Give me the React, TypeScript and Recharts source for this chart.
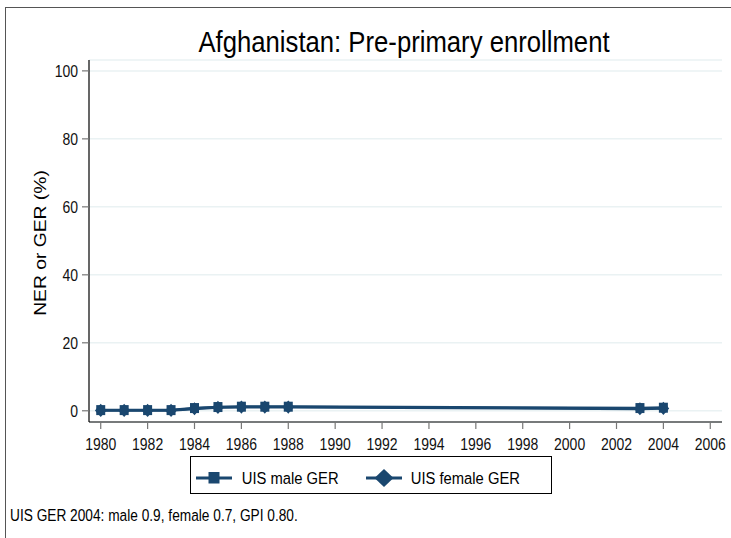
import React from "react";
import { ComposedChart, Line, XAxis, YAxis, CartesianGrid } from "recharts";

const years = [1980, 1981, 1982, 1983, 1984, 1985, 1986, 1987, 1988, 2003, 2004];
const maleGER = [0.2, 0.2, 0.2, 0.2, 0.8, 1.1, 1.2, 1.2, 1.2, 0.8, 0.9];
const femaleGER = [0.1, 0.1, 0.1, 0.1, 0.6, 1.0, 1.1, 1.1, 1.1, 0.6, 0.7];
const xTicks = [1980, 1982, 1984, 1986, 1988, 1990, 1992, 1994, 1996, 1998, 2000, 2002, 2004, 2006];
const yTicks = [0, 20, 40, 60, 80, 100];

const title = "Afghanistan: Pre-primary enrollment";
const yLabel = "NER or GER (%)";
const seriesNames = ["UIS male GER", "UIS female GER"];
const note = "UIS GER 2004: male 0.9, female 0.7, GPI 0.80.";

const data = years.map((y, i) => ({ year: y, male: maleGER[i], female: femaleGER[i] }));

const NAVY = "#1a476f";
const FONT = "'Liberation Sans', Arial, Helvetica, sans-serif";
const SY = 1.17; // vertical stretch of the reference's text

const SquareDot = (props: any) => {
  const { cx, cy } = props;
  if (cx == null || cy == null) return null;
  const w = 9, h = 10;
  return <rect x={cx - w / 2} y={cy - h / 2} width={w} height={h} fill={NAVY} />;
};

const DiamondDot = (props: any) => {
  const { cx, cy } = props;
  if (cx == null || cy == null) return null;
  const rx = 5.8, ry = 6.6;
  return (
    <polygon
      points={`${cx},${cy - ry} ${cx + rx},${cy} ${cx},${cy + ry} ${cx - rx},${cy}`}
      fill={NAVY}
    />
  );
};

const XTick = (props: any) => {
  const { x, y, payload } = props;
  return (
    <g transform={`translate(${x},${y + 18}) scale(1,${SY})`}>
      <text x={0} y={0} textAnchor="middle" fontSize={14} fontFamily={FONT} fill="#111">
        {payload.value}
      </text>
    </g>
  );
};

const YTick = (props: any) => {
  const { x, y, payload } = props;
  return (
    <g transform={`translate(${x - 1},${y + 5.8}) scale(1,${SY})`}>
      <text x={0} y={0} textAnchor="end" fontSize={14} fontFamily={FONT} fill="#111">
        {payload.value}
      </text>
    </g>
  );
};

export default function App() {
  return (
    <div style={{ position: "absolute", left: 0, top: 0, width: 731, height: 538, background: "#fff", fontFamily: FONT, overflow: "hidden" }}>
      <div style={{ position: "absolute", left: 0, top: 0 }}>
        <ComposedChart
          width={731}
          height={538}
          data={data}
          margin={{ top: 60, right: 9, left: 0, bottom: 86 }}
        >
          <CartesianGrid horizontal={true} vertical={false} stroke="#eaf2f3" strokeWidth={1.5} />
          <XAxis
            dataKey="year"
            type="number"
            domain={[1979.5, 2006.5]}
            ticks={xTicks}
            allowDataOverflow
            height={30}
            tickSize={7}
            tickMargin={3}
            axisLine={{ stroke: "#000", strokeWidth: 1.2 }}
            tickLine={{ stroke: "#777", strokeWidth: 1.2 }}
            tick={<XTick />}
            interval={0}
          />
          <YAxis
            type="number"
            domain={[-3.3, 103.2]}
            ticks={yTicks}
            allowDataOverflow
            width={89}
            tickSize={7}
            tickMargin={3}
            axisLine={{ stroke: "#000", strokeWidth: 1.2 }}
            tickLine={{ stroke: "#777", strokeWidth: 1.2 }}
            tick={<YTick />}
            interval={0}
          />
          <Line
            dataKey="male"
            stroke={NAVY}
            strokeWidth={2.8}
            dot={<SquareDot />}
            activeDot={false}
            isAnimationActive={false}
          />
          <Line
            dataKey="female"
            stroke={NAVY}
            strokeWidth={2.8}
            dot={<DiamondDot />}
            activeDot={false}
            isAnimationActive={false}
          />
        </ComposedChart>
      </div>
      <svg style={{ position: "absolute", left: 0, top: 0 }} width={731} height={538} fontFamily={FONT}>
        <rect x={5.5} y={7.5} width={800} height={600} fill="none" stroke="#555" strokeWidth={1} />
        <g transform={`translate(404,51.7) scale(1,${SY})`}>
          <text x={0} y={0} textAnchor="middle" fontSize={25.7} fill="#000">{title}</text>
        </g>
        <g transform={`translate(46,243) scale(1,${SY}) rotate(-90)`}>
          <text x={0} y={0} textAnchor="middle" fontSize={16.5} fill="#000">{yLabel}</text>
        </g>
        <rect x={190.5} y={456.5} width={361} height={37} fill="#fff" stroke="#000" strokeWidth={1} />
        <line x1={196} y1={478} x2={232} y2={478} stroke={NAVY} strokeWidth={2.8} />
        <rect x={208.5} y={472} width={11} height={11.5} fill={NAVY} />
        <line x1={366} y1={478} x2={402} y2={478} stroke={NAVY} strokeWidth={2.8} />
        <polygon points="384,469 393.5,478 384,487 374.5,478" fill={NAVY} />
        <g transform={`translate(241.7,483.5) scale(1,${SY})`}>
          <text x={0} y={0} fontSize={14.8} fill="#000">{seriesNames[0]}</text>
        </g>
        <g transform={`translate(410.7,483.5) scale(1,${SY})`}>
          <text x={0} y={0} fontSize={14.8} fill="#000">{seriesNames[1]}</text>
        </g>
        <g transform={`translate(10,521) scale(1,${SY})`}>
          <text x={0} y={0} fontSize={13.7} fill="#000">{note}</text>
        </g>
      </svg>
    </div>
  );
}
